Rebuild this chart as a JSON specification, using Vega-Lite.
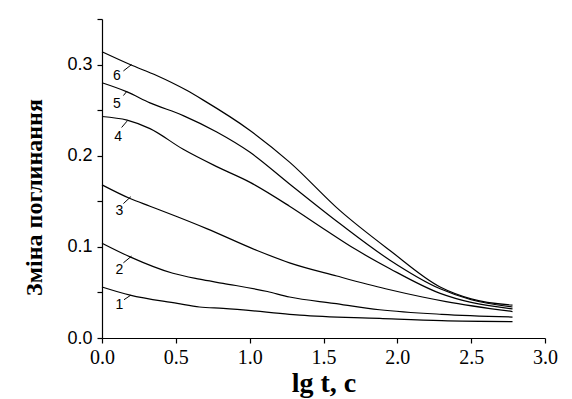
{
  "$schema": "https://vega.github.io/schema/vega-lite/v6.json",
  "width": 443,
  "height": 319,
  "autosize": {"type": "none"},
  "padding": {"left": 102, "top": 19, "right": 27, "bottom": 61},
  "background": "white",
  "config": {"view": {"stroke": null}},
  "datasets": {
    "curves": [
      {"c": "6", "x": 0, "y": 0.314}, {"c": "6", "x": 0.19, "y": 0.300}, {"c": "6", "x": 0.37, "y": 0.288}, {"c": "6", "x": 0.57, "y": 0.272}, {"c": "6", "x": 0.686, "y": 0.261}, {"c": "6", "x": 1.0, "y": 0.228}, {"c": "6", "x": 1.27, "y": 0.193}, {"c": "6", "x": 1.61, "y": 0.140}, {"c": "6", "x": 1.95, "y": 0.096}, {"c": "6", "x": 2.29, "y": 0.056}, {"c": "6", "x": 2.5, "y": 0.043}, {"c": "6", "x": 2.78, "y": 0.036},
      {"c": "5", "x": 0, "y": 0.280}, {"c": "5", "x": 0.17, "y": 0.270}, {"c": "5", "x": 0.325, "y": 0.258}, {"c": "5", "x": 0.55, "y": 0.244}, {"c": "5", "x": 0.777, "y": 0.226}, {"c": "5", "x": 1.0, "y": 0.204}, {"c": "5", "x": 1.27, "y": 0.169}, {"c": "5", "x": 1.61, "y": 0.1256}, {"c": "5", "x": 1.95, "y": 0.0854}, {"c": "5", "x": 2.29, "y": 0.054}, {"c": "5", "x": 2.5, "y": 0.042}, {"c": "5", "x": 2.78, "y": 0.034},
      {"c": "4", "x": 0, "y": 0.243}, {"c": "4", "x": 0.17, "y": 0.239}, {"c": "4", "x": 0.325, "y": 0.2297}, {"c": "4", "x": 0.55, "y": 0.207}, {"c": "4", "x": 0.777, "y": 0.188}, {"c": "4", "x": 1.0, "y": 0.171}, {"c": "4", "x": 1.27, "y": 0.1446}, {"c": "4", "x": 1.5, "y": 0.120}, {"c": "4", "x": 1.72, "y": 0.097}, {"c": "4", "x": 1.95, "y": 0.076}, {"c": "4", "x": 2.29, "y": 0.049}, {"c": "4", "x": 2.5, "y": 0.039}, {"c": "4", "x": 2.78, "y": 0.032},
      {"c": "3", "x": 0, "y": 0.168}, {"c": "3", "x": 0.19, "y": 0.153}, {"c": "3", "x": 0.325, "y": 0.1446}, {"c": "3", "x": 0.51, "y": 0.133}, {"c": "3", "x": 0.709, "y": 0.120}, {"c": "3", "x": 1.05, "y": 0.096}, {"c": "3", "x": 1.27, "y": 0.0825}, {"c": "3", "x": 1.59, "y": 0.068}, {"c": "3", "x": 1.92, "y": 0.054}, {"c": "3", "x": 2.17, "y": 0.045}, {"c": "3", "x": 2.33, "y": 0.040}, {"c": "3", "x": 2.78, "y": 0.029},
      {"c": "2", "x": 0, "y": 0.104}, {"c": "2", "x": 0.19, "y": 0.089}, {"c": "2", "x": 0.48, "y": 0.071}, {"c": "2", "x": 0.66, "y": 0.0646}, {"c": "2", "x": 0.82, "y": 0.060}, {"c": "2", "x": 1.12, "y": 0.051}, {"c": "2", "x": 1.27, "y": 0.045}, {"c": "2", "x": 1.57, "y": 0.038}, {"c": "2", "x": 1.88, "y": 0.031}, {"c": "2", "x": 2.3, "y": 0.026}, {"c": "2", "x": 2.78, "y": 0.023},
      {"c": "1", "x": 0, "y": 0.056}, {"c": "1", "x": 0.19, "y": 0.047}, {"c": "1", "x": 0.51, "y": 0.038}, {"c": "1", "x": 0.66, "y": 0.034}, {"c": "1", "x": 0.82, "y": 0.0325}, {"c": "1", "x": 1.27, "y": 0.026}, {"c": "1", "x": 1.34, "y": 0.025}, {"c": "1", "x": 1.88, "y": 0.0215}, {"c": "1", "x": 2.3, "y": 0.019}, {"c": "1", "x": 2.78, "y": 0.018}
    ],
    "labels": [
      {"c": "6", "x": 0.10, "y": 0.287, "x1": 0.145, "y1": 0.293, "x2": 0.2, "y2": 0.300},
      {"c": "5", "x": 0.10, "y": 0.257, "x1": 0.145, "y1": 0.266, "x2": 0.17, "y2": 0.271},
      {"c": "4", "x": 0.11, "y": 0.220, "x1": 0.133, "y1": 0.231, "x2": 0.17, "y2": 0.238},
      {"c": "3", "x": 0.117, "y": 0.139, "x1": 0.145, "y1": 0.1475, "x2": 0.195, "y2": 0.155},
      {"c": "2", "x": 0.117, "y": 0.075, "x1": 0.145, "y1": 0.0825, "x2": 0.2, "y2": 0.0898},
      {"c": "1", "x": 0.117, "y": 0.036, "x1": 0.149, "y1": 0.042, "x2": 0.195, "y2": 0.047}
    ]
  },
  "layer": [
    {
      "data": {"name": "curves"},
      "mark": {"type": "line", "color": "black", "strokeWidth": 1.2, "interpolate": "monotone"},
      "encoding": {
        "x": {
          "field": "x", "type": "quantitative",
          "scale": {"domain": [0, 3], "nice": false},
          "axis": {
            "values": [0, 0.25, 0.5, 0.75, 1, 1.25, 1.5, 1.75, 2, 2.25, 2.5, 2.75, 3],
            "labelExpr": "abs(datum.value*2 - round(datum.value*2)) < 0.001 ? format(datum.value, '.1f') : ''",
            "grid": false, "domainColor": "black", "domainWidth": 1.2, "tickColor": "black", "tickWidth": 1.2, "tickSize": 5,
            "labelFont": "Liberation Serif", "labelFontSize": 20, "labelColor": "black", "labelPadding": 4, "labelFlush": false,
            "title": "lg t, c", "titleFont": "Liberation Serif", "titleFontSize": 28, "titleFontWeight": "bold", "titleColor": "black", "titlePadding": 2
          }
        },
        "y": {
          "field": "y", "type": "quantitative",
          "scale": {"domain": [0, 0.35], "nice": false},
          "axis": {
            "values": [0, 0.025, 0.05, 0.075, 0.1, 0.125, 0.15, 0.175, 0.2, 0.225, 0.25, 0.275, 0.3, 0.325, 0.35],
            "labelExpr": "abs(datum.value*10 - round(datum.value*10)) < 0.001 ? format(datum.value, '.1f') : ''",
            "grid": false, "domainColor": "black", "domainWidth": 1.2, "tickColor": "black", "tickWidth": 1.2, "tickSize": 5,
            "labelFont": "Liberation Sans", "labelFontSize": 18, "labelColor": "black", "labelPadding": 5, "labelFlush": false,
            "title": "Зміна поглинання", "titleFont": "Liberation Serif", "titleFontSize": 24, "titleFontWeight": "bold", "titleColor": "black", "titlePadding": 20, "titleY": 178
          }
        },
        "detail": {"field": "c"}
      }
    },
    {
      "data": {"name": "labels"},
      "mark": {"type": "rule", "color": "black", "strokeWidth": 1},
      "encoding": {
        "x": {"field": "x1", "type": "quantitative"},
        "y": {"field": "y1", "type": "quantitative"},
        "x2": {"field": "x2"},
        "y2": {"field": "y2"}
      }
    },
    {
      "data": {"name": "labels"},
      "mark": {"type": "text", "color": "black", "font": "Liberation Sans", "fontSize": 14, "align": "center", "baseline": "middle"},
      "encoding": {
        "x": {"field": "x", "type": "quantitative"},
        "y": {"field": "y", "type": "quantitative"},
        "text": {"field": "c"}
      }
    }
  ]
}
